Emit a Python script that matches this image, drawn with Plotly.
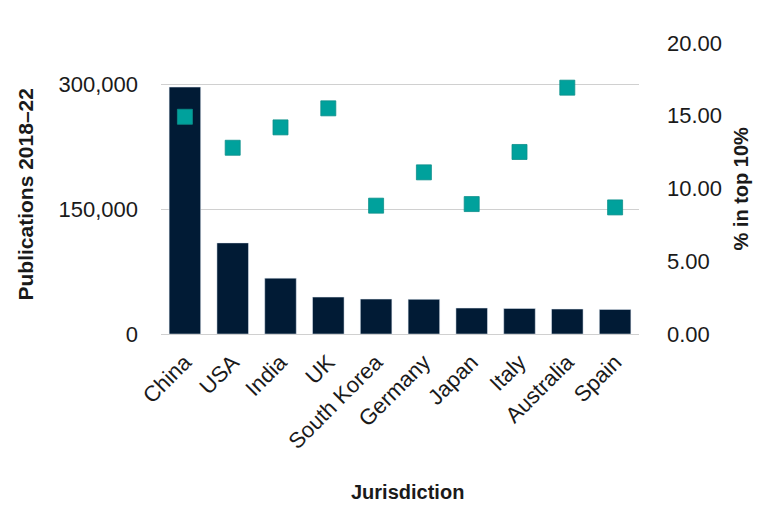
import plotly.graph_objects as go

# data
countries = ["China", "USA", "India", "UK", "South Korea", "Germany",
             "Japan", "Italy", "Australia", "Spain"]
publications = [297000, 109600, 67200, 44400, 42000, 41700,
                31200, 30700, 30000, 29500]
pct_top10 = [14.93, 12.80, 14.20, 15.51, 8.82, 11.11,
             8.93, 12.51, 16.93, 8.70]

left_ticks = [0, 150000, 300000]
right_ticks = [0, 5, 10, 15, 20]

NAVY = "#011B35"
TEAL = "#00A19C"
FONT = "Liberation Sans, Arial, sans-serif"

fig = go.Figure()
fig.add_trace(go.Bar(x=countries, y=publications, marker_color=NAVY,
                     name="Publications 2018–22"))
fig.add_trace(go.Scatter(x=countries, y=pct_top10, mode="markers", yaxis="y2",
                         marker=dict(symbol="square", size=15, color=TEAL,
                                     line=dict(color="#0C8F8A", width=0.8)),
                         name="% in top 10%"))

# page body adds 8px offset, so the figure is a bit smaller than the window
fig.update_layout(
    width=772, height=504, showlegend=False,
    paper_bgcolor="white", plot_bgcolor="white",
    margin=dict(l=153, r=141, t=35, b=178),
    bargap=0.34,
    font=dict(family=FONT, size=22, color="#1A1A1A"),
    xaxis=dict(range=[-0.5, len(countries) - 0.5], tickangle=-45,
               showline=False, ticks="", automargin=False,
               ticklabelstandoff=10, tickfont=dict(size=22)),
    yaxis=dict(range=[0, 350000], tickvals=left_ticks, tickformat=",",
               showgrid=True, gridcolor="#D0D0D0", gridwidth=1,
               zeroline=True, zerolinecolor="#D0D0D0", zerolinewidth=1,
               ticks="", ticklabelstandoff=22, automargin=False),
    yaxis2=dict(range=[0, 20], tickvals=right_ticks, tickformat=".2f",
                overlaying="y", side="right", showgrid=False, zeroline=False,
                ticks="", ticklabelstandoff=27, automargin=False),
    annotations=[
        dict(text="<b>Publications 2018–22</b>", x=0, y=0.5, xshift=-136,
             yshift=-6, xanchor="center", yanchor="middle",
             xref="paper", yref="paper", textangle=-90,
             showarrow=False, font=dict(size=21)),
        dict(text="<b>% in top 10%</b>", x=1, y=0.5, xshift=101,
             xanchor="center", yanchor="middle",
             xref="paper", yref="paper", textangle=-90, showarrow=False,
             font=dict(size=20)),
        dict(text="<b>Jurisdiction</b>", x=0.5, y=0, xshift=7, yshift=-158,
             xanchor="center", yanchor="middle",
             xref="paper", yref="paper", showarrow=False,
             font=dict(size=20)),
    ],
)

fig.write_html("out.html")
